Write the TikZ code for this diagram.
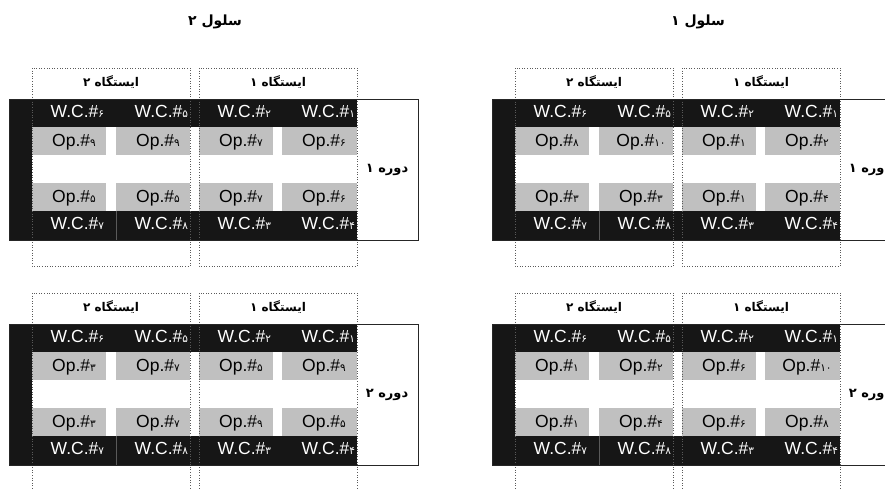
\documentclass[tikz,border=0pt]{standalone}
\usepackage{fontspec}
\setmainfont{Liberation Sans}
\newfontfamily\farsi[Script=Arabic]{DejaVu Sans}
\newfontfamily\digfont{DejaVu Sans}
\TeXXeTstate=1
\usepackage{tikz}

\definecolor{cellblack}{HTML}{161616}
\definecolor{opgray}{HTML}{C0C0C0}
\definecolor{linegray}{HTML}{5A5A5A}
\newcommand{\fa}[1]{{\farsi\beginR #1\endR}}
\newcommand{\pnum}[1]{{\digfont\fontsize{10.5}{11}\selectfont #1}}

\begin{document}
\begin{tikzpicture}[
  x=1pt, y=-1pt,
  every node/.style={inner sep=0pt, outer sep=0pt},
  wc/.style={anchor=base east, text=white, font=\fontsize{17.5}{18}\selectfont},
  op/.style={anchor=base, text=black, font=\fontsize{17.5}{18}\selectfont},
  head/.style={font=\farsi\bfseries\fontsize{12}{14}\selectfont},
  title/.style={font=\farsi\bfseries\fontsize{14}{16}\selectfont},
  station/.style={draw=linegray, dotted, line width=0.6pt},
  period/.style={draw=black!85, line width=0.6pt},
]
  \useasboundingbox (0,0) rectangle (885,488);

  \node[title] (cell2) at (215,22) {\fa{سلول ۲}};
  \node[title] (cell1) at (698,22) {\fa{سلول ۱}};

  % one block per cell and period
  \foreach \ox/\oy/\per/\pn/\ra/\rb/\rc/\rd/\sa/\sb/\sc/\sd in {
      0/0/۱/a/۹/۹/۷/۶/۵/۵/۷/۶,
      483/0/۱/b/۸/۱۰/۱/۲/۳/۳/۱/۴,
      0/225/۲/c/۳/۷/۵/۹/۳/۷/۹/۵,
      483/225/۲/d/۱/۲/۶/۱۰/۱/۴/۶/۸} {
    \begin{scope}[shift={(\ox,\oy)}]
      \fill[cellblack] (9,99) rectangle (32,240);
      \fill[cellblack] (9,99) rectangle (357,127);
      \fill[cellblack] (9,211) rectangle (357,240);
      \foreach \cx/\w in {32/74,116/74,199/74,282/75} {
        \fill[opgray] (\cx,127) rectangle ++(\w,28);
        \fill[opgray] (\cx,183) rectangle ++(\w,28);
      }
      \draw[linegray, line width=0.4pt] (116,211) -- (116,240);
      \draw[station] (32,68) rectangle (190,266);
      \draw[station] (199,68) rectangle (357,266);
      \draw[period] (9,99) rectangle (418,240);

      \node[head] (st2-\pn) at (111,82) {\fa{ایستگاه ۲}};
      \node[head] (st1-\pn) at (278,82) {\fa{ایستگاه ۱}};
      \node[head, font=\farsi\bfseries\fontsize{13}{15}\selectfont]
        (per-\pn) at (387,170) {\fa{دوره \per}};

      \foreach \d/\rx [count=\i] in {۶/104,۵/188,۲/271,۱/355}
        \node[wc] (wct-\pn-\i) at (\rx,117) {W.C.\#\pnum{\d}};
      \foreach \d/\rx [count=\i] in {۷/104,۸/188,۳/271,۴/355}
        \node[wc] (wcb-\pn-\i) at (\rx,229) {W.C.\#\pnum{\d}};
      \foreach \d/\cx [count=\i] in {\ra/74,\rb/158,\rc/241,\rd/324}
        \node[op] (opt-\pn-\i) at (\cx,146) {Op.\#\pnum{\d}};
      \foreach \d/\cx [count=\i] in {\sa/74,\sb/158,\sc/241,\sd/324}
        \node[op] (opb-\pn-\i) at (\cx,202) {Op.\#\pnum{\d}};
    \end{scope}
  }
\end{tikzpicture}
\end{document}
